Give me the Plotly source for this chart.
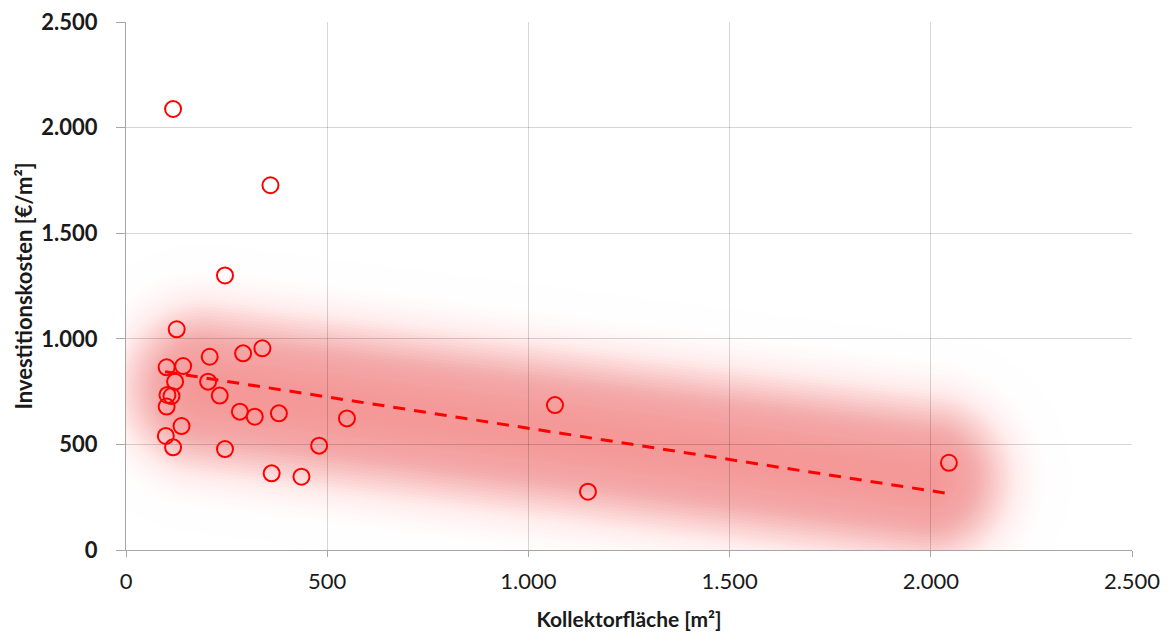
import numpy as np
import plotly.graph_objects as go

# Kollektorfläche [m²] and specific investment costs [€/m²] per plant
kollektorflaeche = [117, 359, 246, 126, 208, 291, 339, 101, 142, 122, 204, 233, 103, 113,
                    101, 283, 320, 380, 549, 138, 99, 117, 246, 480, 362, 436, 1066, 1148, 2045]
investitionskosten = [2088, 1727, 1300, 1045, 915, 931, 955, 865, 871, 797, 797, 731, 734, 729,
                      679, 655, 631, 647, 623, 587, 540, 486, 478, 494, 363, 347, 686, 276, 413]

# Linear trend line (end points)
trend_x = [97, 2045]
trend_y = [844, 267]

# Centre line of the shaded band (start / end)
band_x = [195, 1990]
band_y = [765, 335]

axis_ticks = [0, 500, 1000, 1500, 2000, 2500]

# Plot area geometry in pixels (used to keep the band round on screen)
W, H = 1168, 634
M_L, M_R, M_T, M_B = 126, 36, 22, 84
PX_PER_X = (W - M_L - M_R) / 2500.0
PX_PER_Y = (H - M_T - M_B) / 2500.0


def capsule_path(x0, y0, x1, y1, r_px, n=40):
    """SVG path (data coords) of a rounded band of pixel radius r_px around a segment."""
    ax, ay = x0 * PX_PER_X, -y0 * PX_PER_Y
    bx, by = x1 * PX_PER_X, -y1 * PX_PER_Y
    ang = np.arctan2(by - ay, bx - ax)
    pts = []
    for t in np.linspace(ang + np.pi / 2, ang + 3 * np.pi / 2, n):
        pts.append((ax + r_px * np.cos(t), ay + r_px * np.sin(t)))
    for t in np.linspace(ang - np.pi / 2, ang + np.pi / 2, n):
        pts.append((bx + r_px * np.cos(t), by + r_px * np.sin(t)))
    d = []
    for i, (px, py) in enumerate(pts):
        d.append(("M" if i == 0 else "L") + f"{px / PX_PER_X:.2f},{-py / PX_PER_Y:.2f}")
    return " ".join(d) + " Z"


# Soft glow: nested capsules whose stacked opacity follows a smooth fall-off
PEAK, R0, SOFT = 0.44, 72.0, 14.0
radii = np.arange(145, 6, -3.0)
shapes = []
prev = 0.0
for r in radii:
    target = PEAK / (1 + np.exp((r - R0) / SOFT))
    a = 1 - (1 - target) / (1 - prev)
    prev = target
    if a <= 0.002:
        continue
    shapes.append(dict(type="path",
                       path=capsule_path(band_x[0], band_y[0], band_x[1], band_y[1], r),
                       xref="x", yref="y", fillcolor="rgb(232,50,50)", opacity=float(a),
                       line=dict(width=0), layer="below"))

fig = go.Figure()

fig.add_trace(go.Scatter(
    x=trend_x, y=trend_y, mode="lines",
    line=dict(color="#ff0000", width=3, dash="12px,9px"),
    hoverinfo="skip", showlegend=False,
))

fig.add_trace(go.Scatter(
    x=kollektorflaeche, y=investitionskosten, mode="markers",
    marker=dict(symbol="circle-open", size=16, color="#ff0000",
                line=dict(width=2, color="#ff0000")),
    showlegend=False,
))

grid_col = "rgba(0,0,0,0.16)"
axis_col = "#a6a6a6"

fig.update_layout(
    width=W, height=H,
    margin=dict(l=M_L, r=M_R, t=M_T, b=M_B, pad=0),
    paper_bgcolor="white", plot_bgcolor="white",
    separators=",.",
    shapes=shapes,
    font=dict(family="Lato", color="#1a1a1a"),
    xaxis=dict(
        range=[0, 2500], tickvals=axis_ticks, tickformat=",d",
        automargin=False,
        showgrid=True, gridcolor=grid_col, gridwidth=1,
        showline=True, linecolor=axis_col, linewidth=1,
        ticks="outside", ticklen=6, tickcolor=axis_col,
        tickfont=dict(family="Lato", size=22, color="#1a1a1a"),
        ticklabelstandoff=6,
        zeroline=False,
        title=dict(text="Kollektorfläche [m²]", standoff=18,
                   font=dict(family="Lato", size=21, weight="bold", color="#1a1a1a")),
    ),
    yaxis=dict(
        range=[0, 2500], tickvals=axis_ticks, tickformat=",d",
        automargin=False,
        showgrid=True, gridcolor=grid_col, gridwidth=1,
        showline=True, linecolor=axis_col, linewidth=1,
        ticks="outside", ticklen=9, tickcolor=axis_col,
        tickfont=dict(family="Lato", size=22, weight="bold", color="#1a1a1a"),
        ticklabelstandoff=14,
        zeroline=False,
        title=dict(text="Investitionskosten [€/m²]", standoff=2,
                   font=dict(family="Lato", size=22, weight="bold", color="#1a1a1a")),
    ),
)

fig.write_html("out.html")
